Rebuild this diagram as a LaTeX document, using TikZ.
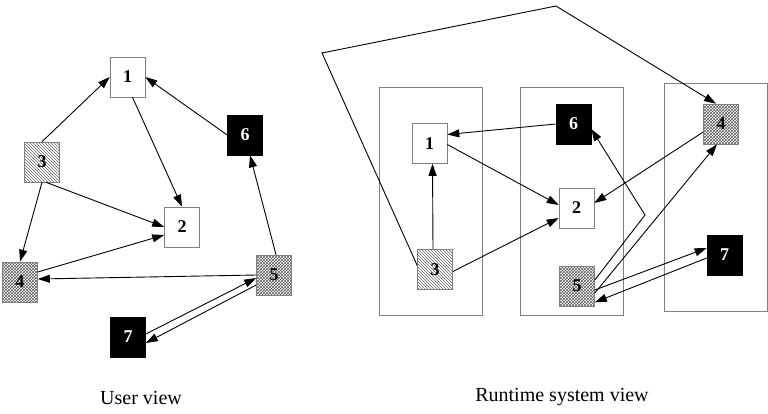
\documentclass[tikz,border=0pt]{standalone}
\usepackage{fontspec}
\setmainfont{Liberation Serif}
\usepackage{tikz}
\usetikzlibrary{arrows.meta,patterns}

\tikzset{
  task/.style={draw=gray, line width=.6pt, minimum width=35pt, minimum height=40pt,
    inner sep=0pt, font=\fontsize{18}{18}\selectfont\bfseries},
  whitetask/.style={task, fill=white},
  hatchtask/.style={task, pattern=north west lines, pattern color=black!60},
  meshtask/.style={task, pattern=crosshatch, pattern color=black!65},
  darktask/.style={task, draw=black, fill=black, text=white},
  proc/.style={draw=gray, line width=.6pt, minimum width=103pt, minimum height=228pt, inner sep=0pt},
  caption/.style={font=\fontsize{20}{20}\selectfont}
}

\begin{document}
\begin{tikzpicture}[x=1pt, y=-1pt, >={Triangle[length=12pt,width=8pt]}, line width=.9pt]
  \useasboundingbox (0,0) rectangle (768,413);

  \node (u1) at (127.5,77) [whitetask] {1};
  \node (u2) at (182,227) [whitetask] {2};
  \node (u3) at (42,162) [hatchtask] {3};
  \node (u4) at (20,282) [meshtask] {4};
  \node (u5) at (274,275) [meshtask] {5};
  \node (u6) at (245,135) [darktask] {6};
  \node (u7) at (128,337) [darktask] {7};

  \draw[->] (u3.north) -- (u1.west);
  \draw[->] (u6.west) -- (u1.east);
  \draw[->] ([xshift=5pt]u1.south) -- (u2.north);
  \draw[->] ([xshift=4pt]u3.south) -- (u2.west);
  \draw[->] (u3.south) -- (u4.north);
  \draw[->] ([yshift=10pt]u4.east) -- ([yshift=-8pt]u2.west);
  \draw[->] (u5.west) -- ([yshift=3pt]u4.east);
  \draw[->] ([xshift=2pt]u5.north) -- ([xshift=5pt]u6.south);
  \draw[->] ([yshift=3pt]u7.east) -- ([yshift=-3pt]u5.west);
  \draw[->] ([yshift=-10pt]u5.west) -- ([yshift=-6pt]u7.east);

  \node (procA) at (430.5,201) [proc] {};
  \node (procB) at (572,201) [proc] {};
  \node (procC) at (716,197.5) [proc] {};

  \node (r1) at (429.5,143.5) [whitetask] {1};
  \node (r2) at (576.5,208) [whitetask] {2};
  \node (r3) at (435,269.5) [hatchtask] {3};
  \node (r4) at (721,124) [meshtask] {4};
  \node (r5) at (577,286) [meshtask] {5};
  \node (r6) at (573.5,124) [darktask] {6};
  \node (r7) at (724.5,255) [darktask] {7};

  \coordinate (bendA) at (322,53);
  \coordinate (bendB) at (556,6);
  \coordinate (bendC) at (645,215);

  \draw[->] ([xshift=-2pt]r3.north) -- ([xshift=3pt]r1.south);
  \draw[->] ([yshift=-2pt]r3.east) -- ([yshift=-10pt]r2.west);
  \draw[->] ([yshift=-1pt]r1.east) -- ([yshift=3pt]r2.west);
  \draw[->] (r6.west) -- ([yshift=9pt]r1.east);
  \draw[->] ([yshift=-8pt]r4.west) -- ([yshift=5pt]r2.east);
  \draw[->] ([yshift=-7pt]r5.east) -- ([xshift=-4pt]r4.south);
  \draw[->] ([yshift=6pt]r5.east) -- (bendC) -- ([yshift=-5pt]r6.east);
  \draw[->] ([yshift=-4pt]r5.east) -- ([yshift=7pt]r7.west);
  \draw[->] ([yshift=-3pt]r7.west) -- ([yshift=4pt]r5.south east);
  \draw[->] ([yshift=4pt]r3.west) -- (bendA) -- (bendB) -- ([xshift=-5pt]r4.north);

  \node (userview) at (141,398) [caption] {User view};
  \node (runview) at (562,397) [caption] {Runtime system view};
\end{tikzpicture}
\end{document}
